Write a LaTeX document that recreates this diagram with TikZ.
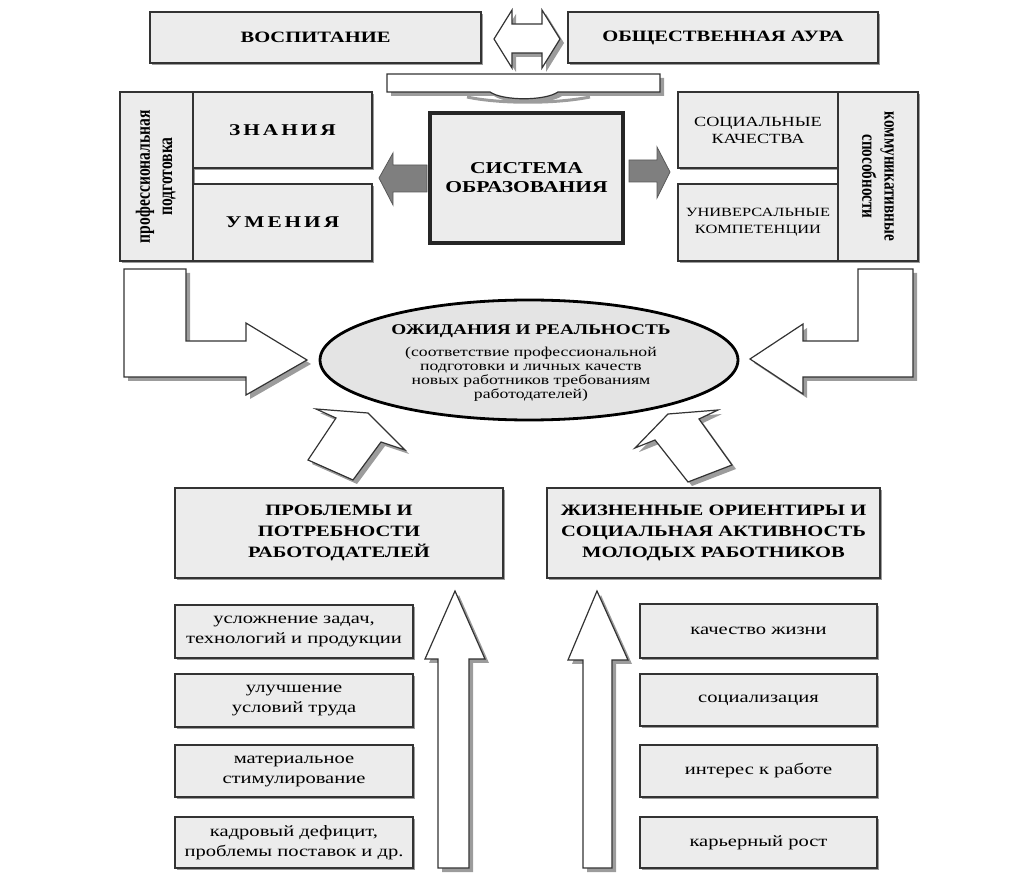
\documentclass[tikz,border=0pt]{standalone}
\usepackage{fontspec}
\setmainfont[FakeStretch=1.3]{Liberation Serif}
\newfontfamily\rotfont{Liberation Serif}
\usepackage{tikz}
\usetikzlibrary{shapes.geometric,shadows}
\definecolor{boxFill}{HTML}{ECECEC}
\definecolor{ovalFill}{HTML}{E4E4E4}
\definecolor{edgeDark}{HTML}{333333}
\definecolor{solidArrow}{HTML}{7F7F7F}
\definecolor{shadowGray}{HTML}{9C9C9C}

\tikzset{
  box/.style={draw=edgeDark, fill=boxFill, line width=0.6pt, inner sep=0pt, outer sep=0pt,
    align=center, drop shadow={shadow xshift=1.2pt, shadow yshift=-1.2pt, fill=shadowGray, opacity=1}},
  headbox/.style={box, font=\fontsize{7.9}{9.5}\selectfont\bfseries},
  itembox/.style={box, font=\fontsize{7.9}{10}\selectfont},
  blockarrow/.style={draw=edgeDark, fill=white, line width=0.6pt,
    drop shadow={shadow xshift=2pt, shadow yshift=-2pt, fill=shadowGray, opacity=1}},
  solidarrow/.style={draw=solidArrow!70!black, fill=solidArrow, line width=0.4pt}
}

\begin{document}
\begin{tikzpicture}[x=0.5pt, y=-0.5pt]
  \useasboundingbox (0,0) rectangle (1019,882);

  % top row
  \node[headbox, minimum width=165.5pt, minimum height=25.5pt] (vosp) at (315.5,37.5) {ВОСПИТАНИЕ};
  \node[headbox, minimum width=155pt, minimum height=25.5pt] (aura) at (723,37.5) {ОБЩЕСТВЕННАЯ АУРА};
  \path[blockarrow] (494,39) -- (512,10) -- (512,24) -- (542,24) -- (542,10) -- (560,39)
    -- (542,68) -- (542,53) -- (512,53) -- (512,68) -- cycle;

  % flat curved arrow under the top row
  \draw[shadowGray, line width=1.5pt] (467,97) .. controls (500,104) and (555,104) .. (590,97);
  \path[blockarrow] (387,74) -- (660,74) -- (660,92) -- (558,92)
    .. controls (545,101) and (503,101) .. (490,92) -- (387,92) -- cycle;

  % left group
  \node[box, minimum width=36.5pt, minimum height=84.5pt] (prep) at (156.5,176.5) {};
  \node[box, minimum width=89.5pt, minimum height=38pt, font=\fontsize{8.2}{9}\selectfont\bfseries\addfontfeatures{LetterSpace=18}] (know) at (282.5,130) {ЗНАНИЯ};
  \node[box, minimum width=89.5pt, minimum height=38.5pt, font=\fontsize{8.2}{9}\selectfont\bfseries\addfontfeatures{LetterSpace=18}] (skill) at (282.5,222.5) {УМЕНИЯ};
  \node[inner sep=0pt] (preptext) at (prep.center)
    {\scalebox{1.3}[1]{\rotatebox{90}{\rotfont\bfseries\fontsize{7.8}{8.6}\selectfont
      \begin{tabular}{@{}c@{}}профессиональная\\подготовка\end{tabular}}}};

  % education system
  \node[box, draw=black!85, line width=1.6pt, minimum width=96.5pt, minimum height=65pt,
    font=\fontsize{8.3}{9.5}\selectfont\bfseries] (edu) at (526.5,178) {СИСТЕМА\\ОБРАЗОВАНИЯ};
  \path[solidarrow] (379,178) -- (393,153) -- (393,165) -- (427,165) -- (427,192) -- (393,192) -- (393,205) -- cycle;
  \path[solidarrow] (670,172) -- (657,147) -- (657,160) -- (629,160) -- (629,182) -- (657,182) -- (657,198) -- cycle;

  % right group
  \node[box, minimum width=80pt, minimum height=38pt, font=\fontsize{7}{8.5}\selectfont] (social) at (758,130) {СОЦИАЛЬНЫЕ\\КАЧЕСТВА};
  \node[box, minimum width=80pt, minimum height=38.5pt, font=\fontsize{6.3}{8.5}\selectfont] (univ) at (758,222.5) {УНИВЕРСАЛЬНЫЕ\\КОМПЕТЕНЦИИ};
  \node[box, minimum width=40pt, minimum height=84.5pt] (comm) at (878,176.5) {};
  \node[inner sep=0pt] (commtext) at (comm.center)
    {\scalebox{1.3}[1]{\rotatebox{-90}{\rotfont\bfseries\fontsize{7.6}{8.6}\selectfont
      \begin{tabular}{@{}c@{}}коммуникативные\\способности\end{tabular}}}};

  % bent arrows into the oval
  \path[blockarrow] (124,269) -- (186,269) -- (186,341) -- (246,341) -- (246,323) -- (307,360)
    -- (246,395) -- (246,377) -- (124,377) -- cycle;
  \path[blockarrow] (913,269) -- (858,269) -- (858,341) -- (803,341) -- (803,324) -- (750,359)
    -- (803,394) -- (803,377) -- (913,377) -- cycle;

  % expectations and reality
  \node[ellipse, draw=black, fill=ovalFill, line width=1.4pt, inner sep=0pt,
    minimum width=209pt, minimum height=60pt] (oval) at (529,360) {};
  \node[align=center, font=\fontsize{6.8}{7}\selectfont] (ovaltext) at (531,363)
    {{\fontsize{7.4}{9}\selectfont\bfseries ОЖИДАНИЯ И РЕАЛЬНОСТЬ}\\[4pt]
     (соответствие профессиональной\\ подготовки и личных качеств\\
     новых работников требованиям\\ работодателей)};

  % tilted arrows
  \path[blockarrow] (368,413) -- (405,450) -- (381,442) -- (353,480) -- (308,460) -- (336,418) -- (316,409) -- cycle;
  \path[blockarrow] (668,414) -- (718,410) -- (699,419) -- (732,465) -- (688,482) -- (655,440) -- (635,448) -- cycle;

  % bottom headings
  \node[headbox, minimum width=164pt, minimum height=45pt, font=\fontsize{7.9}{10.5}\selectfont\bfseries] (employers) at (339,533)
    {ПРОБЛЕМЫ И\\ПОТРЕБНОСТИ\\РАБОТОДАТЕЛЕЙ};
  \node[headbox, minimum width=166.5pt, minimum height=45pt, font=\fontsize{7.9}{10.5}\selectfont\bfseries] (youth) at (713.5,533)
    {ЖИЗНЕННЫЕ ОРИЕНТИРЫ И\\СОЦИАЛЬНАЯ АКТИВНОСТЬ\\МОЛОДЫХ РАБОТНИКОВ};

  % up arrows
  \path[blockarrow] (455,591) -- (485,659) -- (469,659) -- (469,868) -- (438,868) -- (438,659) -- (425,659) -- cycle;
  \path[blockarrow] (597,591) -- (628,660) -- (612,660) -- (612,868) -- (583,868) -- (583,660) -- (568,660) -- cycle;

  % employer factors
  \node[itembox, minimum width=119pt, minimum height=26.5pt] (emp1) at (294,631.5) {усложнение задач,\\технологий и продукции};
  \node[itembox, minimum width=119pt, minimum height=26.5pt] (emp2) at (294,700.5) {улучшение\\условий труда};
  \node[itembox, minimum width=119pt, minimum height=26pt] (emp3) at (294,771) {материальное\\стимулирование};
  \node[itembox, minimum width=119pt, minimum height=25.5pt] (emp4) at (294,842.5) {кадровый дефицит,\\проблемы поставок и др.};

  % youth factors
  \node[itembox, minimum width=118.5pt, minimum height=27pt] (young1) at (758.5,631) {качество жизни};
  \node[itembox, minimum width=118.5pt, minimum height=26pt] (young2) at (758.5,700) {социализация};
  \node[itembox, minimum width=118.5pt, minimum height=26pt] (young3) at (758.5,771) {интерес к работе};
  \node[itembox, minimum width=118.5pt, minimum height=25.5pt] (young4) at (758.5,842.5) {карьерный рост};
\end{tikzpicture}
\end{document}
